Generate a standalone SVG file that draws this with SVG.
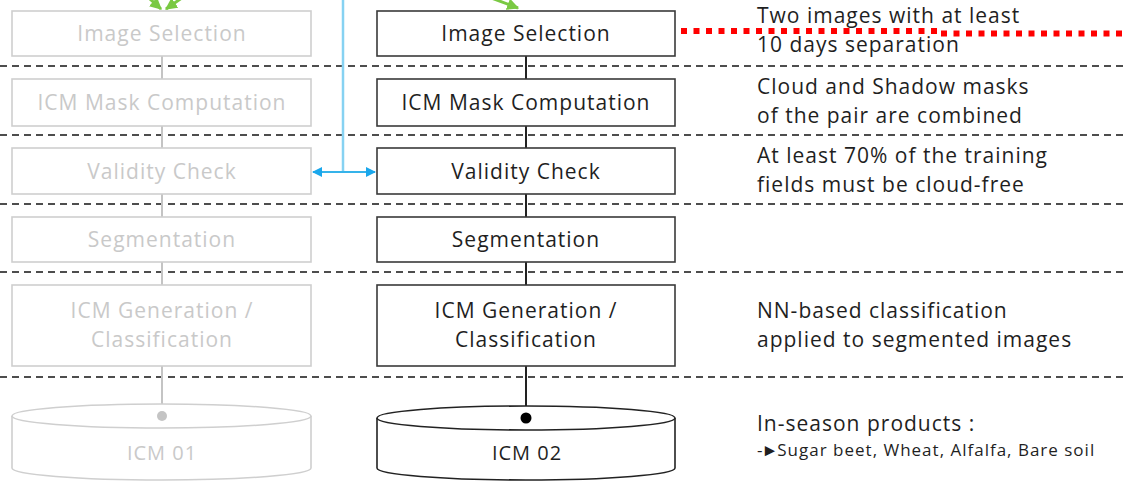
<svg xmlns="http://www.w3.org/2000/svg" width="1125" height="482" viewBox="0 0 1125 482">
  <defs>
    <style>
      text { font-family: "Open Sans", "Liberation Sans", sans-serif; letter-spacing: 1px; }
      .box { fill: #ffffff; stroke: #3a3a3a; stroke-width: 1.6; }
      .box-faded { fill: #ffffff; stroke: #cfcfcf; stroke-width: 1.6; }
      .label { font-size: 21px; fill: #1f1f1f; text-anchor: middle; }
      .label-faded { font-size: 21px; fill: #c9c9c9; text-anchor: middle; }
      .note { font-size: 21px; fill: #1f1f1f; }
      .note-small { font-size: 17px; fill: #1f1f1f; }
      .sep { stroke: #4d4d4d; stroke-width: 2; stroke-dasharray: 7 5; }
      .link { stroke: #222222; stroke-width: 2; fill: none; }
      .link-faded { stroke: #c4c4c4; stroke-width: 2; fill: none; }
      .blue { stroke: #35b3ea; stroke-width: 2; fill: none; }
      .green { stroke: #7ac943; stroke-width: 3; fill: none; }
    </style>
    <marker id="blueHead" viewBox="0 0 10 10" refX="9" refY="5" markerWidth="5" markerHeight="5" orient="auto-start-reverse">
      <path d="M0,0 L10,5 L0,10 z" fill="#1aa7ec"/>
    </marker>
    <marker id="greenHead" viewBox="0 0 10 10" refX="9" refY="5" markerWidth="4" markerHeight="4" orient="auto">
      <path d="M0,0 L10,5 L0,10 z" fill="#7ac943"/>
    </marker>
  </defs>

  <!-- row separators -->
  <g id="separators">
    <line class="sep" x1="0" y1="66" x2="1125" y2="66"/>
    <line class="sep" x1="0" y1="135" x2="1125" y2="135"/>
    <line class="sep" x1="0" y1="204" x2="1125" y2="204"/>
    <line class="sep" x1="0" y1="272" x2="1125" y2="272"/>
    <line class="sep" x1="0" y1="377" x2="1125" y2="377"/>
  </g>

  <!-- connectors -->
  <g id="connectors">
    <!-- faded chain -->
    <line class="link-faded" x1="162" y1="56" x2="162" y2="79"/>
    <line class="link-faded" x1="162" y1="126" x2="162" y2="148"/>
    <line class="link-faded" x1="162" y1="194" x2="162" y2="217"/>
    <line class="link-faded" x1="162" y1="262" x2="162" y2="285"/>
    <line class="link-faded" x1="162" y1="366" x2="162" y2="416"/>
    <!-- active chain -->
    <line class="link" x1="526" y1="56" x2="526" y2="79"/>
    <line class="link" x1="526" y1="126" x2="526" y2="148"/>
    <line class="link" x1="526" y1="194" x2="526" y2="217"/>
    <line class="link" x1="526" y1="262" x2="526" y2="285"/>
    <line class="link" x1="526" y1="366" x2="526" y2="418"/>
    <!-- incoming green arrows -->
    <line class="green" x1="138" y1="-12" x2="161" y2="9" marker-end="url(#greenHead)"/>
    <line class="green" x1="196" y1="-12" x2="166" y2="9" marker-end="url(#greenHead)"/>
    <line class="green" x1="470" y1="-10" x2="518" y2="8" marker-end="url(#greenHead)"/>
    <!-- blue feed to validity check -->
    <line x1="343" y1="0" x2="343" y2="172" stroke="#86d2f2" stroke-width="2.5"/>
    <line class="blue" x1="313" y1="172" x2="375" y2="172" marker-start="url(#blueHead)" marker-end="url(#blueHead)"/>
    <!-- red dotted line -->
    <polyline points="681,31 940,31 940,33.5 1125,33.5" fill="none" stroke="#ff0000" stroke-width="6" stroke-dasharray="6 6.5"/>
  </g>

  <!-- faded column -->
  <g id="faded-image-selection">
    <rect class="box-faded" x="12" y="11" width="299" height="45"/>
    <text class="label-faded" x="162" y="41">Image Selection</text>
  </g>
  <g id="faded-mask">
    <rect class="box-faded" x="12" y="79" width="299" height="47"/>
    <text class="label-faded" x="162" y="110">ICM Mask Computation</text>
  </g>
  <g id="faded-validity">
    <rect class="box-faded" x="12" y="148" width="299" height="46"/>
    <text class="label-faded" x="162" y="179">Validity Check</text>
  </g>
  <g id="faded-segmentation">
    <rect class="box-faded" x="12" y="217" width="299" height="45"/>
    <text class="label-faded" x="162" y="247">Segmentation</text>
  </g>
  <g id="faded-generation">
    <rect class="box-faded" x="12" y="285" width="299" height="81"/>
    <text class="label-faded" x="162" y="318">ICM Generation /</text>
    <text class="label-faded" x="162" y="347">Classification</text>
  </g>
  <g id="faded-icm01">
    <path d="M12,416 L12,468 A149.5,12 0 0 0 311,468 L311,416" fill="#ffffff" stroke="#cfcfcf" stroke-width="1.6"/>
    <ellipse cx="161.5" cy="416" rx="149.5" ry="12" fill="#ffffff" stroke="#cfcfcf" stroke-width="1.6"/>
    <circle cx="162" cy="416" r="5" fill="#c4c4c4"/>
    <text x="162" y="460" font-size="20" fill="#c9c9c9" text-anchor="middle">ICM 01</text>
  </g>

  <!-- active column -->
  <g id="image-selection">
    <rect class="box" x="377" y="11" width="298" height="45"/>
    <text class="label" x="526" y="41">Image Selection</text>
  </g>
  <g id="mask-computation">
    <rect class="box" x="377" y="79" width="298" height="47"/>
    <text class="label" x="526" y="110">ICM Mask Computation</text>
  </g>
  <g id="validity-check">
    <rect class="box" x="377" y="148" width="298" height="46"/>
    <text class="label" x="526" y="179">Validity Check</text>
  </g>
  <g id="segmentation">
    <rect class="box" x="377" y="217" width="298" height="45"/>
    <text class="label" x="526" y="247">Segmentation</text>
  </g>
  <g id="generation">
    <rect class="box" x="377" y="285" width="298" height="81"/>
    <text class="label" x="526" y="318">ICM Generation /</text>
    <text class="label" x="526" y="347">Classification</text>
  </g>
  <g id="icm02">
    <path d="M377,418 L377,468 A149,12 0 0 0 675,468 L675,418" fill="#ffffff" stroke="#222222" stroke-width="1.6"/>
    <ellipse cx="526" cy="418" rx="149" ry="12" fill="#ffffff" stroke="#222222" stroke-width="1.6"/>
    <circle cx="526" cy="418" r="5.5" fill="#000000"/>
    <text x="527" y="460" font-size="20" fill="#1f1f1f" text-anchor="middle">ICM 02</text>
  </g>

  <!-- step notes -->
  <g id="notes">
    <text class="note" x="757" y="23">Two images with at least</text>
    <text class="note" x="757" y="52">10 days separation</text>
    <text class="note" x="757" y="94">Cloud and Shadow masks</text>
    <text class="note" x="757" y="123">of the pair are combined</text>
    <text class="note" x="757" y="163">At least 70% of the training</text>
    <text class="note" x="757" y="192">fields must be cloud-free</text>
    <text class="note" x="757" y="318">NN-based classification</text>
    <text class="note" x="757" y="347">applied to segmented images</text>
    <text class="note" x="757" y="431">In-season products :</text>
    <text class="note-small" x="757" y="456"><tspan letter-spacing="-1">-►</tspan>Sugar beet, Wheat, Alfalfa, Bare soil</text>
  </g>
</svg>
